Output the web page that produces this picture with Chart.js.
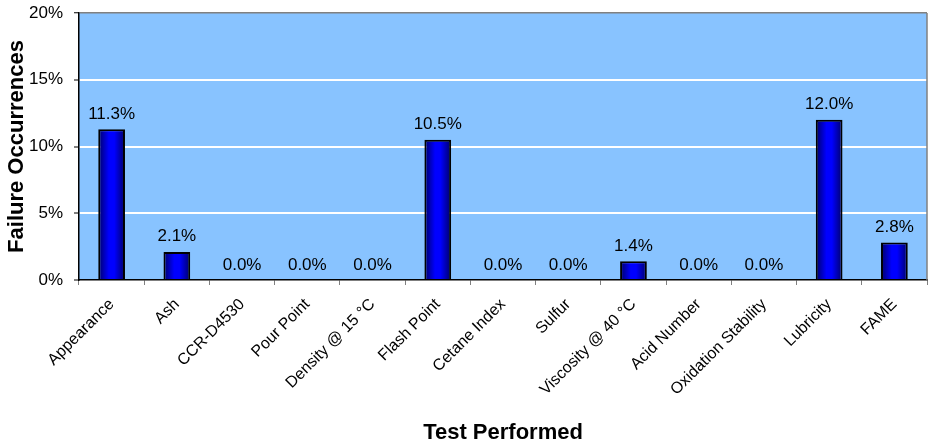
<!DOCTYPE html>
<html>
<head>
<meta charset="utf-8">
<script src="https://cdn.jsdelivr.net/npm/chart.js@4/dist/chart.umd.min.js"></script>
<style>
html,body{margin:0;padding:0;background:#fff;}
#wrap{width:930px;height:446px;position:relative;}
</style>
</head>
<body>
<div id="wrap"><canvas id="c" width="930" height="446"></canvas></div>
<script>
const categories = ["Appearance","Ash","CCR-D4530","Pour Point","Density @ 15 °C","Flash Point","Cetane Index","Sulfur","Viscosity @ 40 °C","Acid Number","Oxidation Stability","Lubricity","FAME"];
const failurePct = [11.3,2.1,0.0,0.0,0.0,10.5,0.0,0.0,1.4,0.0,0.0,12.0,2.8];
const yTicks = [0,5,10,15,20];

const FONT = "'Liberation Sans', Arial, sans-serif";
const BAR_PCT = 0.41;

const bgPlugin = {
  id: 'bg',
  beforeDraw(chart) {
    const {ctx, chartArea: a} = chart;
    ctx.save();
    ctx.fillStyle = '#88C3FF';
    ctx.fillRect(a.left, a.top, a.right - a.left, a.bottom - a.top);
    ctx.restore();
  },
  afterDraw(chart) {
    const {ctx, chartArea: a} = chart;
    ctx.save();
    ctx.strokeStyle = '#808080';
    ctx.lineWidth = 1.5;
    ctx.beginPath();
    ctx.moveTo(a.right, a.top);
    ctx.lineTo(a.right, a.bottom);
    ctx.stroke();
    ctx.restore();
  }
};

const labelPlugin = {
  id: 'vals',
  afterDatasetsDraw(chart) {
    const {ctx} = chart;
    const meta = chart.getDatasetMeta(0);
    ctx.save();
    ctx.font = '17px ' + FONT;
    ctx.fillStyle = '#000';
    ctx.textAlign = 'center';
    ctx.textBaseline = 'alphabetic';
    meta.data.forEach((bar, i) => {
      ctx.fillText(failurePct[i].toFixed(1) + '%', bar.x, bar.y - 10.5);
    });
    ctx.restore();
  }
};

new Chart(document.getElementById('c'), {
  type: 'bar',
  data: {
    labels: categories,
    datasets: [{
      data: failurePct,
      backgroundColor: (c) => {
        const chart = c.chart;
        const a = chart.chartArea;
        if (!a || c.type !== 'data') return '#0000EE';
        const x = chart.scales.x.getPixelForValue(c.dataIndex);
        const w = (a.right - a.left) / categories.length * BAR_PCT;
        const g = chart.ctx.createLinearGradient(x - w / 2, 0, x + w / 2, 0);
        g.addColorStop(0, '#000066');
        g.addColorStop(0.4, '#0000FF');
        g.addColorStop(0.6, '#0000FF');
        g.addColorStop(1, '#000066');
        return g;
      },
      borderColor: '#000000',
      borderWidth: 2,
      barPercentage: BAR_PCT,
      categoryPercentage: 1.0
    }]
  },
  options: {
    responsive: false,
    animation: false,
    devicePixelRatio: 1,
    layout: {padding: {top: 13, right: 3, left: 0, bottom: 0}},
    plugins: {legend: {display: false}, tooltip: {enabled: false}},
    scales: {
      x: {
        afterFit(s) { s.height = 166; s.paddingLeft = 0; s.paddingRight = 0; },
        grid: {
          offset: true,
          drawOnChartArea: false,
          tickLength: 5,
          tickColor: '#808080',
          tickWidth: 1
        },
        border: {color: '#000000', width: 1.5},
        ticks: {
          color: '#000',
          font: {family: FONT, size: 16},
          minRotation: 45,
          maxRotation: 45,
          autoSkip: false,
          padding: 10
        },
        title: {
          display: true,
          text: 'Test Performed',
          color: '#000',
          font: {family: FONT, size: 22, weight: 'bold'},
          padding: {top: 0, bottom: 0}
        }
      },
      y: {
        min: 0,
        max: 20,
        afterFit(s) { s.width = 79; s.paddingTop = 0; s.paddingBottom = 0; },
        afterBuildTicks(s) { s.ticks = yTicks.map(v => ({value: v})); },
        grid: {
          color: (c) => c.tick && c.tick.value === 20 ? '#808080' : (c.tick && c.tick.value === 0 ? 'rgba(0,0,0,0)' : '#FFFFFF'),
          lineWidth: (c) => c.tick && c.tick.value === 20 ? 1.5 : 2,
          tickColor: '#000000',
          tickLength: 5,
          tickWidth: 1
        },
        border: {color: '#000000', width: 1.5},
        ticks: {
          color: '#000',
          font: {family: FONT, size: 17},
          padding: 11,
          callback: (v) => v + '%'
        },
        title: {
          display: true,
          text: 'Failure Occurrences',
          color: '#000',
          font: {family: FONT, size: 22, weight: 'bold'},
          padding: {top: 4, bottom: 0}
        }
      }
    }
  },
  plugins: [bgPlugin, labelPlugin]
});
</script>
</body>
</html>
